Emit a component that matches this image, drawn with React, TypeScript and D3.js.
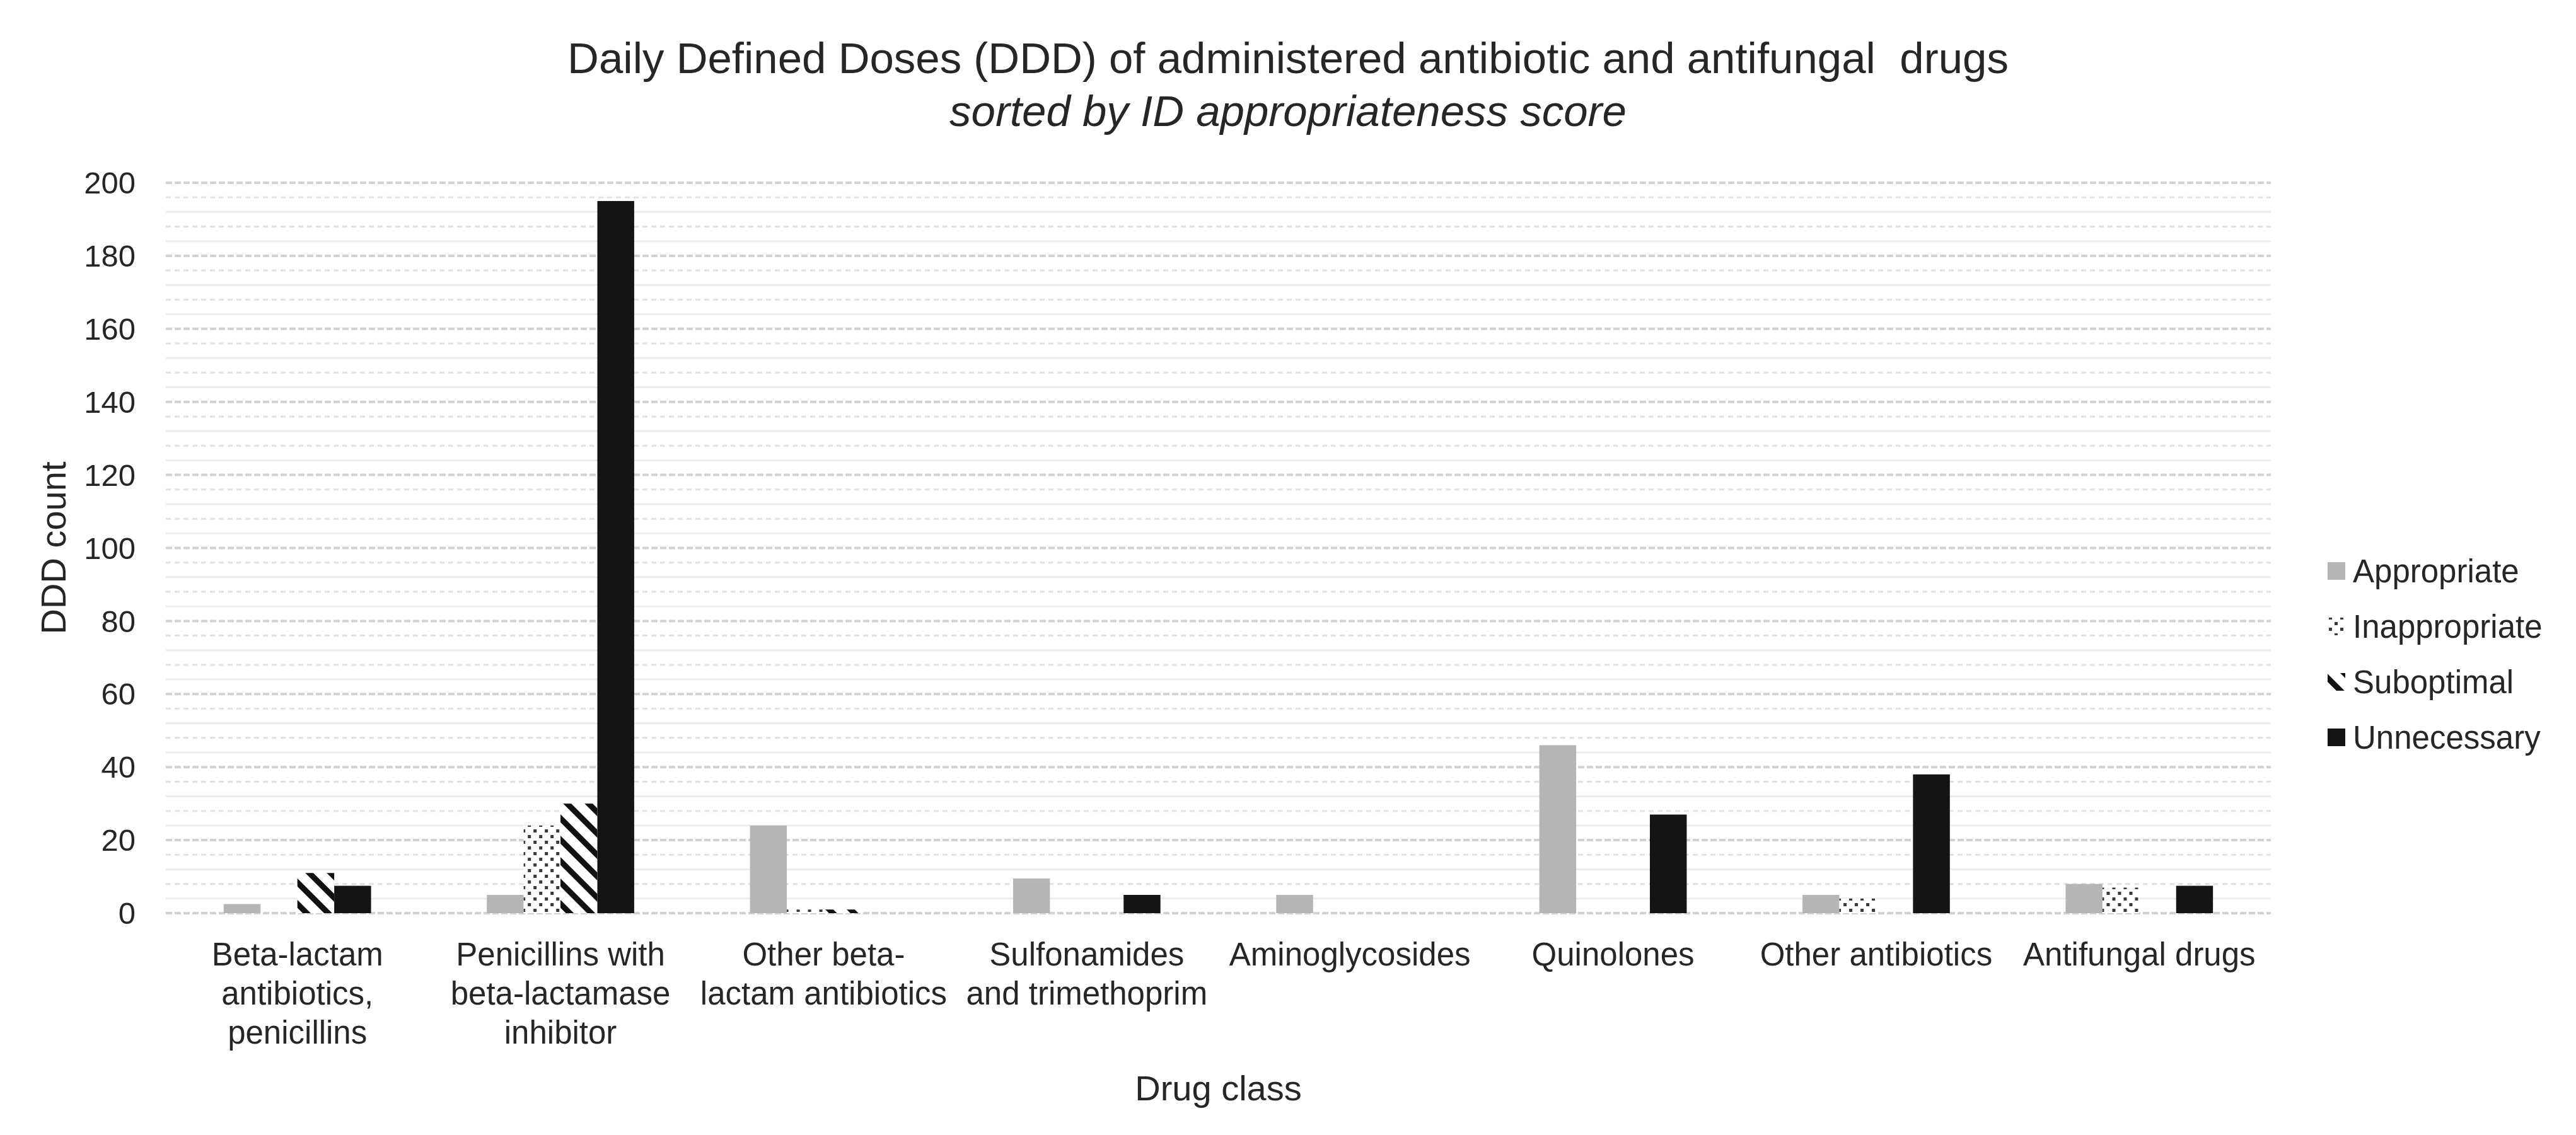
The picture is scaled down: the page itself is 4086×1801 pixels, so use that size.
import * as d3 from "d3";

const width = 4086;
const height = 1801;

const marginLeft = 263;
const marginRight = 484; // plot ends at 3602
const plotTop = 290;
const plotBottom = 1449;

const categories = [
  "Beta-lactam antibiotics, penicillins",
  "Penicillins with beta-lactamase inhibitor",
  "Other beta-lactam antibiotics",
  "Sulfonamides and trimethoprim",
  "Aminoglycosides",
  "Quinolones",
  "Other antibiotics",
  "Antifungal drugs",
];

// wrapped axis labels, as the original chart breaks them
const categoryLines = [
  ["Beta-lactam", "antibiotics,", "penicillins"],
  ["Penicillins with", "beta-lactamase", "inhibitor"],
  ["Other beta-", "lactam antibiotics"],
  ["Sulfonamides", "and trimethoprim"],
  ["Aminoglycosides"],
  ["Quinolones"],
  ["Other antibiotics"],
  ["Antifungal drugs"],
];

const seriesNames = ["Appropriate", "Inappropriate", "Suboptimal", "Unnecessary"];

const appropriate = [2.5, 5, 24, 9.5, 5, 46, 5, 8];
const inappropriate = [0, 24, 1, 0, 0, 0, 4, 7];
const suboptimal = [11, 30, 1, 0, 0, 0, 0, 0];
const unnecessary = [7.5, 195, 0, 5, 0, 27, 38, 7.5];

const seriesValues = [appropriate, inappropriate, suboptimal, unnecessary];

const yTicks = [0, 20, 40, 60, 80, 100, 120, 140, 160, 180, 200];

const fills = ["#b5b5b5", "url(#dots)", "url(#hatch)", "#141414"];

const font = "'Liberation Sans', Arial, sans-serif";
const textColor = "#262626";

export default function App() {
  const x0 = d3
    .scaleBand()
    .domain(categories)
    .range([marginLeft, width - marginRight])
    .paddingInner(0.44)
    .paddingOuter(0.22);

  const x1 = d3.scaleBand().domain(seriesNames).range([0, x0.bandwidth()]);

  const y = d3.scaleLinear().domain([0, 200]).range([plotBottom, plotTop]);

  const minorTicks = d3.range(0, 201, 4).filter((v) => v % 20 !== 0);

  const plotCenterX = (marginLeft + width - marginRight) / 2;
  const legendX = 3692;
  const legendY = [906, 994, 1082, 1170];

  return (
    <svg
      width={width}
      height={height}
      viewBox={`0 0 ${width} ${height}`}
      style={{ position: "absolute", left: 0, top: 0, background: "#fff" }}
      fontFamily={font}
    >
      <defs>
        <pattern id="dots" width="18" height="18" patternUnits="userSpaceOnUse">
          <rect width="18" height="18" fill="#fff" />
          <rect x="2" y="2" width="5" height="5" fill="#3a3a3a" />
          <rect x="11" y="11" width="5" height="5" fill="#3a3a3a" />
        </pattern>
        <pattern
          id="hatch"
          width="24"
          height="24"
          patternUnits="userSpaceOnUse"
          patternTransform="rotate(-45)"
        >
          <rect width="24" height="24" fill="#fff" />
          <rect x="0" y="0" width="9" height="24" fill="#111" />
        </pattern>
      </defs>

      <rect width={width} height={height} fill="#fff" />

      {/* title */}
      <text x={width / 2} y={116} textAnchor="middle" fontSize={69} fill={textColor}>
        Daily Defined Doses (DDD) of administered antibiotic and antifungal{"\u00a0\u00a0"}drugs
      </text>
      <text
        x={width / 2}
        y={200}
        textAnchor="middle"
        fontSize={69}
        fontStyle="italic"
        fill={textColor}
      >
        sorted by ID appropriateness score
      </text>

      {/* gridlines */}
      <g className="minor-grid">
        {minorTicks.map((t, i) => (
          <line
            key={t}
            x1={marginLeft}
            x2={width - marginRight}
            y1={y(t)}
            y2={y(t)}
            stroke={i % 2 === 0 ? "#ececec" : "#e2e2e2"}
            strokeWidth={3}
            strokeDasharray={i % 2 === 0 ? undefined : "8 6"}
          />
        ))}
      </g>
      <g className="major-grid">
        {yTicks.map((t) => (
          <line
            key={t}
            x1={marginLeft}
            x2={width - marginRight}
            y1={y(t)}
            y2={y(t)}
            stroke="#d2d2d2"
            strokeWidth={4}
            strokeDasharray="10 4"
          />
        ))}
      </g>

      {/* bars */}
      <g className="bars">
        {categories.map((c, ci) => (
          <g key={c} transform={`translate(${x0(c)},0)`}>
            {seriesNames.map((s, si) => {
              const v = seriesValues[si][ci];
              if (!v) return null;
              return (
                <rect
                  key={s}
                  x={x1(s)}
                  y={y(v)}
                  width={x1.bandwidth()}
                  height={y(0) - y(v)}
                  fill={fills[si]}
                />
              );
            })}
          </g>
        ))}
      </g>

      {/* y axis labels */}
      <g className="y-axis">
        {yTicks.map((t) => (
          <text
            key={t}
            x={215}
            y={y(t)}
            dy="0.35em"
            textAnchor="end"
            fontSize={49}
            fill={textColor}
          >
            {t}
          </text>
        ))}
      </g>

      {/* x axis labels */}
      <g className="x-axis">
        {categories.map((c, ci) => (
          <text
            key={c}
            x={x0(c) + x0.bandwidth() / 2}
            y={1532}
            textAnchor="middle"
            fontSize={51}
            fill={textColor}
          >
            {categoryLines[ci].map((line, li) => (
              <tspan key={li} x={x0(c) + x0.bandwidth() / 2} dy={li === 0 ? 0 : 62}>
                {line}
              </tspan>
            ))}
          </text>
        ))}
      </g>

      {/* axis titles */}
      <text
        transform={`translate(${84},${(plotTop + plotBottom) / 2}) rotate(-90)`}
        textAnchor="middle"
        dy="0.35em"
        fontSize={56}
        fill={textColor}
      >
        DDD count
      </text>
      <text x={plotCenterX} y={1746} textAnchor="middle" fontSize={56} fill={textColor}>
        Drug class
      </text>

      {/* legend */}
      <g className="legend">
        {seriesNames.map((s, si) => (
          <g key={s} transform={`translate(${legendX},${legendY[si]})`}>
            <rect x={0} y={-14} width={28} height={28} fill={fills[si]} />
            <text x={40} y={0} dy="0.35em" fontSize={51} fill={textColor}>
              {s}
            </text>
          </g>
        ))}
      </g>
    </svg>
  );
}
